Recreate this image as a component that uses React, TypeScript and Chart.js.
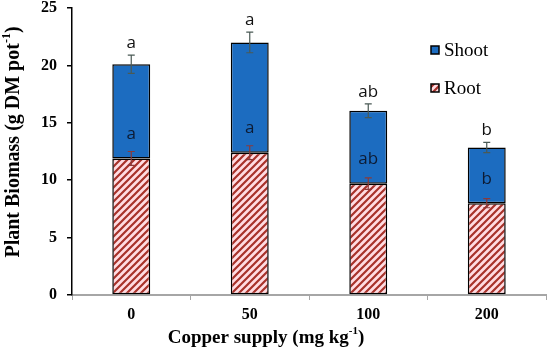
import React, { useEffect, useRef } from "react";
import { Chart, registerables } from "chart.js";
Chart.register(...registerables);

const categories = ["0", "50", "100", "200"];
const rootValues = [11.9, 12.4, 9.7, 8.0];
const shootValues = [8.2, 9.6, 6.35, 4.85];
const rootErrors = [0.6, 0.6, 0.5, 0.4];
const shootErrors = [0.8, 0.9, 0.6, 0.45];
const rootLetters = ["a", "a", "ab", "b"];
const shootLetters = ["a", "a", "ab", "b"];
const yTicks = [0, 5, 10, 15, 20, 25];
const seriesNames = ["Shoot", "Root"];

const SERIF = "'Liberation Serif', 'Times New Roman', serif";
const SANS = "'Open Sans', 'Noto Sans', sans-serif";
const BLUE = "#1c6cc0";

function makeHatch(): CanvasPattern | string {
  const c = document.createElement("canvas");
  const s = 7;
  c.width = s;
  c.height = s;
  const g = c.getContext("2d");
  if (!g) return "#ffd6dc";
  g.fillStyle = "#ffdce2";
  g.fillRect(0, 0, s, s);
  g.strokeStyle = "#a8322a";
  g.lineWidth = 2.2;
  g.beginPath();
  g.moveTo(-1, s + 1);
  g.lineTo(s + 1, -1);
  g.moveTo(-1 - s, s + 1);
  g.lineTo(1, -1);
  g.moveTo(s - 1, s + 1);
  g.lineTo(2 * s + 1, -1);
  g.stroke();
  const p = g.createPattern(c, "repeat");
  return p || "#ffd6dc";
}

function drawSupText(
  ctx: CanvasRenderingContext2D,
  parts: { t: string; sup?: boolean }[],
  size: number
) {
  const main = `bold ${size}px ${SERIF}`;
  const small = `bold ${Math.round(size * 0.6)}px ${SERIF}`;
  let total = 0;
  const widths = parts.map((p) => {
    ctx.font = p.sup ? small : main;
    const w = ctx.measureText(p.t).width;
    total += w;
    return w;
  });
  let x = -total / 2;
  ctx.textAlign = "left";
  ctx.textBaseline = "middle";
  parts.forEach((p, i) => {
    ctx.font = p.sup ? small : main;
    ctx.fillText(p.t, x, p.sup ? -size * 0.35 : 0);
    x += widths[i];
  });
}

const overlayPlugin = {
  id: "overlay",
  afterDatasetsDraw(chart: any) {
    const ctx: CanvasRenderingContext2D = chart.ctx;
    const xs = chart.scales.x;
    const ys = chart.scales.y;
    ctx.save();
    const drawErr = (x: number, v: number, e: number, color: string) => {
      const y1 = ys.getPixelForValue(v - e);
      const y2 = ys.getPixelForValue(v + e);
      ctx.strokeStyle = color;
      ctx.lineWidth = 1.2;
      ctx.beginPath();
      ctx.moveTo(x, y1);
      ctx.lineTo(x, y2);
      ctx.moveTo(x - 3.5, y1);
      ctx.lineTo(x + 3.5, y1);
      ctx.moveTo(x - 3.5, y2);
      ctx.lineTo(x + 3.5, y2);
      ctx.stroke();
    };
    categories.forEach((_, i) => {
      const x = xs.getPixelForValue(i);
      const total = rootValues[i] + shootValues[i];
      drawErr(x, rootValues[i], rootErrors[i], "#8a3a3a");
      drawErr(x, total, shootErrors[i], "#4a5a55");
      ctx.fillStyle = "#111";
      ctx.font = `17px ${SANS}`;
      ctx.textAlign = "center";
      ctx.textBaseline = "middle";
      ctx.fillText(shootLetters[i], x, ys.getPixelForValue(total + shootErrors[i]) - 12);
      ctx.fillStyle = "#0d1b33";
      ctx.fillText(rootLetters[i], x, ys.getPixelForValue(rootValues[i] + 2.1));
    });
    const legendItems = [
      { name: seriesNames[0], fill: BLUE, y: 50 },
      { name: seriesNames[1], fill: chart.data.datasets[0].backgroundColor, y: 88 },
    ];
    legendItems.forEach((it) => {
      ctx.fillStyle = it.fill;
      ctx.fillRect(431, it.y - 4, 8, 8);
      ctx.strokeStyle = "#000";
      ctx.lineWidth = 1.5;
      ctx.strokeRect(431, it.y - 4, 8, 8);
      ctx.fillStyle = "#000";
      ctx.font = `19px ${SERIF}`;
      ctx.textAlign = "left";
      ctx.textBaseline = "middle";
      ctx.fillText(it.name, 444, it.y + 1);
    });
    ctx.fillStyle = "#000";
    ctx.save();
    ctx.translate(266, 338);
    drawSupText(ctx, [{ t: "Copper supply (mg kg" }, { t: "-1", sup: true }, { t: ")" }], 19);
    ctx.restore();
    ctx.save();
    ctx.translate(14, 142);
    ctx.rotate(-Math.PI / 2);
    drawSupText(ctx, [{ t: "Plant Biomass (g DM pot" }, { t: "-1", sup: true }, { t: ")" }], 20);
    ctx.restore();
    ctx.restore();
  },
};

export default function App() {
  const ref = useRef<HTMLCanvasElement | null>(null);
  useEffect(() => {
    document.body.style.margin = "0";
    if (!ref.current) return;
    const hatch = makeHatch();
    const chart = new Chart(ref.current, {
      type: "bar",
      data: {
        labels: categories,
        datasets: [
          {
            label: seriesNames[1],
            data: rootValues,
            backgroundColor: hatch as any,
            borderColor: "#000",
            borderWidth: 1.5,
            borderSkipped: false,
            categoryPercentage: 1,
            barPercentage: 0.32,
          },
          {
            label: seriesNames[0],
            data: shootValues,
            backgroundColor: BLUE,
            borderColor: "#000",
            borderWidth: 1.5,
            borderSkipped: false,
            categoryPercentage: 1,
            barPercentage: 0.32,
          },
        ],
      },
      options: {
        responsive: false,
        animation: false,
        layout: { padding: { top: 8, right: 4, left: 0, bottom: 0 } },
        plugins: { legend: { display: false }, tooltip: { enabled: false } },
        scales: {
          x: {
            stacked: true,
            grid: {
              drawOnChartArea: false,
              drawTicks: true,
              tickLength: 5,
              color: "#a6a6a6",
              offset: true,
            },
            border: { color: "#a6a6a6", width: 2 },
            ticks: {
              color: "#000",
              font: { family: SERIF, size: 16, weight: "bold" },
              padding: 5,
            },
            afterFit: (s: any) => {
              s.height = 57;
              s.paddingLeft = 0;
              s.paddingRight = 0;
            },
          },
          y: {
            stacked: true,
            min: 0,
            max: 25,
            afterBuildTicks: (s: any) => {
              s.ticks = yTicks.map((v) => ({ value: v }));
            },
            grid: {
              drawOnChartArea: false,
              drawTicks: true,
              tickLength: 5,
              color: "#000",
              lineWidth: 1.5,
            },
            border: { color: "#000", width: 1.5 },
            ticks: {
              color: "#000",
              font: { family: SERIF, size: 16, weight: "bold" },
              padding: 10,
            },
            afterFit: (s: any) => {
              s.width = 72;
              s.paddingTop = 0;
              s.paddingBottom = 0;
            },
          },
        },
      },
      plugins: [overlayPlugin],
    });
    return () => chart.destroy();
  }, []);
  return <canvas ref={ref} width={550} height={352} style={{ display: "block" }} />;
}
